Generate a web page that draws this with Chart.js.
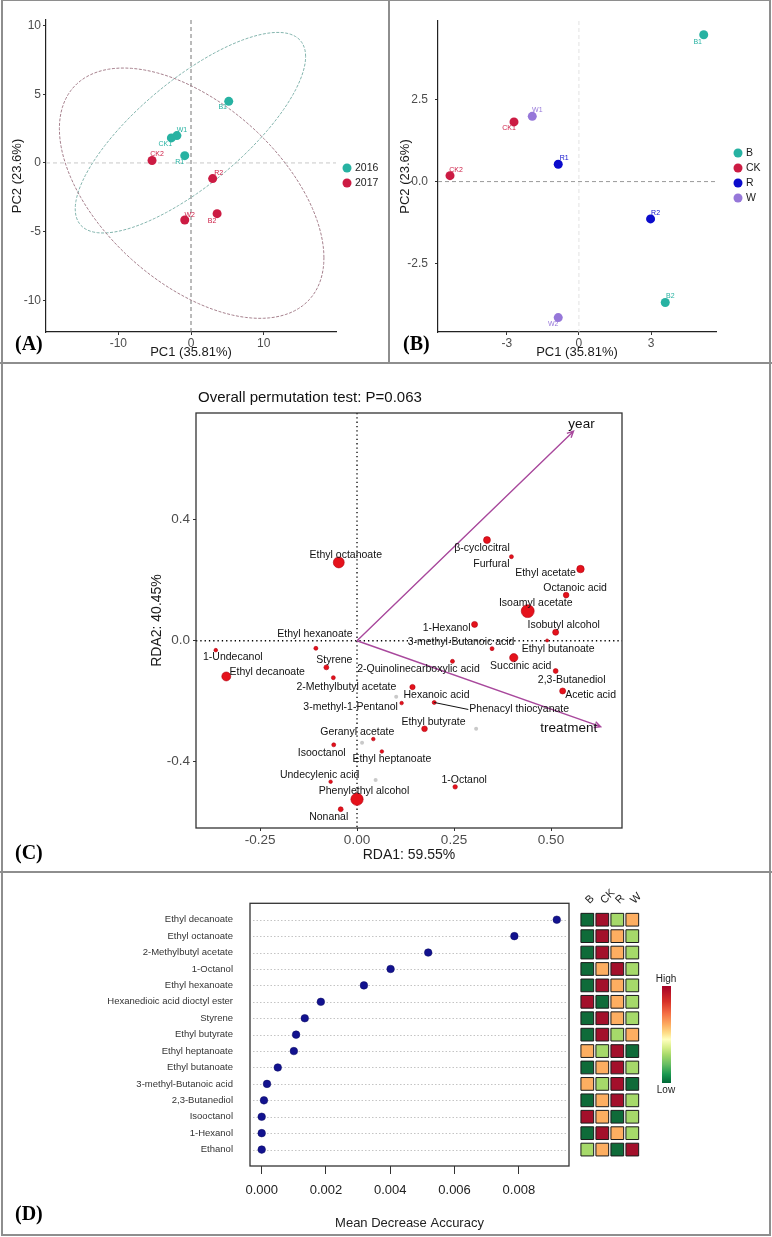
<!DOCTYPE html>
<html>
<head>
<meta charset="utf-8">
<title>PCA, RDA and random forest of volatile compounds</title>
<script src="https://cdn.jsdelivr.net/npm/chart.js@4.4.1/dist/chart.umd.min.js"></script>
<style>
  body { margin: 0; background: #fff; }
  #fig { position: relative; width: 772px; height: 1237px; overflow: hidden; font-family: 'Liberation Sans', Arial, sans-serif; }
  #fig canvas { position: absolute; }
  .frame { position: absolute; left: 1px; top: 0; width: 770px; height: 1236px; box-sizing: border-box; border: 2px solid #8e8e8e; border-top-width: 1px; }
  .rule { position: absolute; background: #8e8e8e; }
  .tag { position: absolute; font-family: 'Liberation Serif', 'Times New Roman', serif; font-weight: bold; font-size: 20px; line-height: 20px; color: #000; }
  .key { position: absolute; width: 40px; text-align: center; font-size: 10px; line-height: 12px; color: #222; }
  #ramp { position: absolute; left: 662px; top: 986px; width: 9px; height: 97px;
    background: linear-gradient(to bottom, #a50026 0%, #d73027 16%, #f46d43 28%, #fdae61 40%, #fee08b 49%, #ffffbf 55%, #d9ef8b 63%, #a6d96a 71%, #66bd63 81%, #1a9850 91%, #006837 100%); }
</style>
</head>
<body>
<div id="fig">
  <div class="frame"></div>
  <div class="rule" style="left:388px;top:0;width:2px;height:363px"></div>
  <div class="rule" style="left:0;top:362px;width:772px;height:2px"></div>
  <div class="rule" style="left:0;top:871px;width:772px;height:2px"></div>

  <canvas id="pcaYear" width="388" height="362" style="left:0;top:0"></canvas>
  <canvas id="pcaGroup" width="384" height="362" style="left:388px;top:0"></canvas>
  <canvas id="rda" width="772" height="509" style="left:0;top:363px"></canvas>
  <canvas id="mda" width="575" height="364" style="left:0;top:873px"></canvas>
  <canvas id="heat" width="100" height="364" style="left:560px;top:873px"></canvas>

  <div id="ramp"></div>
  <div class="key" style="left:646px;top:973px">High</div>
  <div class="key" style="left:646px;top:1084px">Low</div>

  <div class="tag" style="left:15px;top:333px">(A)</div>
  <div class="tag" style="left:403px;top:333px">(B)</div>
  <div class="tag" style="left:15px;top:842px">(C)</div>
  <div class="tag" style="left:15px;top:1203px">(D)</div>
</div>

<script>
// ---- PCA scores (panels A and B) ----
const pcaSamples = ['B1', 'W1', 'CK1', 'R1', 'CK2', 'R2', 'B2', 'W2'];
const pcaYear = ['2016', '2016', '2016', '2016', '2017', '2017', '2017', '2017'];
const pcaGroup = ['B', 'W', 'CK', 'R', 'CK', 'R', 'B', 'W'];
const pc1 = [5.19, -1.94, -2.70, -0.86, -5.36, 2.98, 3.59, -0.86];
const pc2 = [4.48, 1.99, 1.82, 0.53, 0.18, -1.14, -3.69, -4.15];
const years = ['2016', '2017'];
const groups = ['B', 'CK', 'R', 'W'];
// year ellipses: centre, PC1 half-width, and the PC2 parts of the two conjugate semi-axes
const ellCentre1 = [-0.08, 0.09];
const ellCentre2 = [2.20, -2.20];
const ellHalf1 = [15.85, 18.2];
const ellTilt2 = [5.54, -4.7];
const ellSpread2 = [4.75, 7.8];

// ---- RDA (panel C) ----
const rdaNames = ['Ethyl octanoate', '\u03B2-cyclocitral', 'Furfural', 'Ethyl acetate', 'Octanoic acid',
  'Isoamyl acetate', '1-Hexanol', 'Isobutyl alcohol', '3-methyl-Butanoic acid', 'Ethyl butanoate',
  'Ethyl hexanoate', '1-Undecanol', 'Styrene', 'Ethyl decanoate', '2-Methylbutyl acetate',
  '3-methyl-1-Pentanol', 'Hexanoic acid', '2-Quinolinecarboxylic acid', 'Phenacyl thiocyanate', 'Succinic acid',
  '2,3-Butanediol', 'Acetic acid', 'Ethyl butyrate', 'Geranyl acetate', 'Isooctanol',
  'Ethyl heptanoate', 'Undecylenic acid', '1-Octanol', 'Phenylethyl alcohol', 'Nonanal'];
const rda1 = [-0.047, 0.335, 0.398, 0.576, 0.539, 0.440, 0.303, 0.512, 0.348, 0.490,
  -0.106, -0.364, -0.079, -0.337, -0.061, 0.115, 0.143, 0.246, 0.199, 0.404,
  0.512, 0.530, 0.174, 0.042, -0.060, 0.064, -0.068, 0.253, 0.000, -0.042];
const rda2 = [0.259, 0.333, 0.278, 0.237, 0.151, 0.098, 0.054, 0.028, -0.026, 0.001,
  -0.025, -0.031, -0.088, -0.118, -0.122, -0.206, -0.153, -0.068, -0.204, -0.056,
  -0.100, -0.166, -0.291, -0.325, -0.344, -0.366, -0.466, -0.483, -0.524, -0.557];
const rdaAbundance = [30, 12, 4, 14, 8, 42, 9, 9, 4, 2.3,
  4, 3.2, 6, 20, 4, 3.2, 7, 4, 4, 17,
  6, 9, 8, 3.2, 4, 3.2, 3.2, 5, 38, 6];
const rdaOther1 = [0.101, 0.307, 0.013, 0.048];
const rdaOther2 = [-0.185, -0.291, -0.337, -0.460];
const envNames = ['year', 'treatment'];
const envRda1 = [0.558, 0.628];
const envRda2 = [0.693, -0.284];

// ---- random forest (panel D) ----
const mdaNames = ['Ethyl decanoate', 'Ethyl octanoate', '2-Methylbutyl acetate', '1-Octanol', 'Ethyl hexanoate',
  'Hexanedioic acid dioctyl ester', 'Styrene', 'Ethyl butyrate', 'Ethyl heptanoate', 'Ethyl butanoate',
  '3-methyl-Butanoic acid', '2,3-Butanediol', 'Isooctanol', '1-Hexanol', 'Ethanol'];
const mdaValues = [0.00918, 0.00786, 0.00518, 0.00401, 0.00318, 0.00184, 0.00134, 0.00107, 0.00100, 0.00050,
  0.000165, 0.00007, 0.0, 0.0, 0.0];
const heatGroups = ['B', 'CK', 'R', 'W'];
// 1 = lowest ... 4 = highest, columns B CK R W
const heatRank = [[1, 4, 2, 3], [1, 4, 3, 2], [1, 4, 3, 2], [1, 3, 4, 2], [1, 4, 3, 2],
  [4, 1, 3, 2], [1, 4, 3, 2], [1, 4, 2, 3], [3, 2, 4, 1], [1, 3, 4, 2],
  [3, 2, 4, 1], [1, 3, 4, 2], [4, 3, 1, 2], [1, 4, 3, 2], [2, 3, 1, 4]];

// ---- styles ----
const yearColors = { '2016': '#27b2a2', '2017': '#cc1b43' };
const ellipseColors = { '2016': '#84b5ae', '2017': '#a6808d' };
const groupColors = { B: '#27b2a2', CK: '#cc1b43', R: '#0b0bcc', W: '#9677d9' };
const rankColors = ['#0f6b39', '#a6d96a', '#fdae61', '#a3102b'];
const nudgeA = [[-6, 6], [5, -6], [-6, 6], [-5, 6], [5, -6], [6, -6], [-5, 7], [5, -5]];
const nudgeB = [[-6, 7], [5, -6], [-5, 6], [6, -6], [6, -6], [5, -6], [5, -6], [-5, 6]];
const nudgeC = [[7, -7], [-5, 8], [-20, 7], [-35, 4], [9, -7], [8, -8], [-28, 4], [8, -7], [-31, -7], [11, 9],
  [-1, -14], [17, 7], [8, -7], [41, -4], [13, 9], [-51, 4], [24, 8], [-34, 8], [85, 7], [7, 8],
  [16, 9], [28, 4], [9, -7], [-16, -7], [-12, 8], [10, 8], [-11, -7], [9, -7], [7, -8], [-12, 8]];
const leaderC = rdaNames.map(n => n === 'Phenacyl thiocyanate');

Chart.defaults.font.family = "'Liberation Sans', Arial, sans-serif";
Chart.defaults.animation = false;
Chart.defaults.events = [];
Chart.defaults.plugins.legend.display = false;
Chart.defaults.plugins.tooltip.enabled = false;

// text next to each point, shifted by a pixel nudge
const pointText = {
  id: 'pointText',
  afterDatasetsDraw(chart) {
    const ctx = chart.ctx;
    chart.data.datasets.forEach((ds, di) => {
      if (!ds.tags) return;
      const meta = chart.getDatasetMeta(di);
      ctx.save();
      ctx.font = ds.tagFont;
      ctx.textAlign = 'center';
      ctx.textBaseline = 'middle';
      meta.data.forEach((pt, i) => {
        const [dx, dy] = ds.tagNudge[i];
        ctx.fillStyle = ds.tagColor;
        ctx.fillText(ds.tags[i], pt.x + dx, pt.y + dy);
        if (ds.tagLeader && ds.tagLeader[i]) {
          const w = ctx.measureText(ds.tags[i]).width;
          ctx.strokeStyle = '#111';
          ctx.lineWidth = 1;
          ctx.beginPath();
          ctx.moveTo(pt.x, pt.y);
          ctx.lineTo(pt.x + dx - w / 2 - 1, pt.y + dy);
          ctx.stroke();
        }
      });
      ctx.restore();
    });
  }
};

function idx(arr, val) { return arr.map((v, i) => v === val ? i : -1).filter(i => i >= 0); }

function pcaScales(xr, yr, xStep, yStep, yDigits, yPad, yWidth) {
  return {
    x: {
      type: 'linear', min: xr[0], max: xr[1],
      afterFit: s => { s.height = 30; },
      border: { color: '#222', width: 1.2 },
      grid: { drawOnChartArea: false, tickLength: 3, color: '#333' },
      ticks: { stepSize: xStep, includeBounds: false, padding: 1, color: '#4d4d4d', font: { size: 12 },
        callback: v => String(Math.round(v)) },
      title: { display: true, text: 'PC1 (35.81%)', color: '#1a1a1a', font: { size: 13 }, padding: { top: 0, bottom: 2 } }
    },
    y: {
      type: 'linear', min: yr[0], max: yr[1],
      afterFit: s => { s.width = yWidth; },
      border: { color: '#222', width: 1.2 },
      grid: { drawOnChartArea: false, tickLength: 3, color: '#333' },
      ticks: { stepSize: yStep, includeBounds: false, padding: yPad, color: '#4d4d4d', font: { size: 12 },
        callback: v => v.toFixed(yDigits) },
      title: { display: true, text: 'PC2 (23.6%)', color: '#1a1a1a', font: { size: 13 }, padding: { top: 10, bottom: 0 } }
    }
  };
}

function zeroLines(vColor, hColor) {
  return {
    id: 'zeroLines',
    beforeDatasetsDraw(chart) {
      const { ctx, chartArea: a, scales: { x, y } } = chart;
      const px = x.getPixelForValue(0), py = y.getPixelForValue(0);
      ctx.save();
      ctx.lineWidth = 1;
      ctx.setLineDash([4, 3]);
      ctx.strokeStyle = hColor;
      ctx.beginPath(); ctx.moveTo(a.left, py); ctx.lineTo(a.right, py); ctx.stroke();
      ctx.strokeStyle = vColor;
      ctx.beginPath(); ctx.moveTo(px, a.top); ctx.lineTo(px, a.bottom); ctx.stroke();
      ctx.restore();
    }
  };
}

function keyPlugin(labels, colors, x, y0, dy) {
  return {
    id: 'key',
    afterDraw(chart) {
      const ctx = chart.ctx;
      ctx.save();
      ctx.font = "10.5px 'Liberation Sans', Arial, sans-serif";
      ctx.textBaseline = 'middle';
      labels.forEach((lab, i) => {
        const y = y0 + i * dy;
        ctx.fillStyle = colors[lab];
        ctx.beginPath(); ctx.arc(x, y, 4.5, 0, Math.PI * 2); ctx.fill();
        ctx.fillStyle = '#1a1a1a';
        ctx.fillText(lab, x + 8, y);
      });
      ctx.restore();
    }
  };
}

// ---------- (A) PCA coloured by year ----------
const ellipses = {
  id: 'ellipses',
  beforeDatasetsDraw(chart) {
    const { ctx, scales: { x, y } } = chart;
    ctx.save();
    ctx.lineWidth = 1;
    ctx.setLineDash([3, 1.5]);
    years.forEach((yr, e) => {
      ctx.strokeStyle = ellipseColors[yr];
      ctx.beginPath();
      for (let k = 0; k <= 120; k++) {
        const t = k / 120 * Math.PI * 2;
        const px = x.getPixelForValue(ellCentre1[e] + ellHalf1[e] * Math.cos(t));
        const py = y.getPixelForValue(ellCentre2[e] + ellTilt2[e] * Math.cos(t) + ellSpread2[e] * Math.sin(t));
        if (k === 0) ctx.moveTo(px, py); else ctx.lineTo(px, py);
      }
      ctx.stroke();
    });
    ctx.restore();
  }
};

new Chart(document.getElementById('pcaYear'), {
  type: 'scatter',
  data: {
    datasets: years.map(yr => {
      const ii = idx(pcaYear, yr);
      return {
        data: ii.map(i => ({ x: pc1[i], y: pc2[i] })),
        backgroundColor: yearColors[yr], borderWidth: 0, pointRadius: 4.5,
        tags: ii.map(i => pcaSamples[i]), tagNudge: ii.map(i => nudgeA[i]),
        tagColor: yearColors[yr], tagFont: "7px 'Liberation Sans', Arial, sans-serif"
      };
    })
  },
  options: {
    responsive: false,
    layout: { padding: { left: 0, top: 20, right: 52, bottom: 0 } },
    scales: pcaScales([-19.95, 19.95], [-12.3, 10.4], 10, 5, 0, 2, 46)
  },
  plugins: [zeroLines('#777', '#c8c8c8'), ellipses, pointText, keyPlugin(years, yearColors, 347, 168, 15)]
});

// ---------- (B) PCA coloured by treatment ----------
new Chart(document.getElementById('pcaGroup'), {
  type: 'scatter',
  data: {
    datasets: groups.map(g => {
      const ii = idx(pcaGroup, g);
      return {
        data: ii.map(i => ({ x: pc1[i], y: pc2[i] })),
        backgroundColor: groupColors[g], borderWidth: 0, pointRadius: 4.5,
        tags: ii.map(i => pcaSamples[i]), tagNudge: ii.map(i => nudgeB[i]),
        tagColor: groupColors[g], tagFont: "7px 'Liberation Sans', Arial, sans-serif"
      };
    })
  },
  options: {
    responsive: false,
    layout: { padding: { left: 0, top: 21, right: 56, bottom: 0 } },
    scales: pcaScales([-5.86, 5.7], [-4.59, 4.9], 3, 2.5, 1, 7, 50)
  },
  plugins: [zeroLines('#e2e2e2', '#9a9a9a'), pointText, keyPlugin(groups, groupColors, 350, 153, 15)]
});

// ---------- (C) RDA biplot ----------
const rdaDecor = {
  id: 'rdaDecor',
  beforeDatasetsDraw(chart) {
    const { ctx, chartArea: a, scales: { x, y } } = chart;
    const x0 = x.getPixelForValue(0), y0 = y.getPixelForValue(0);
    ctx.save();
    ctx.strokeStyle = '#000';
    ctx.lineWidth = 1.3;
    ctx.setLineDash([1.3, 3]);
    ctx.beginPath();
    ctx.moveTo(x0, a.top); ctx.lineTo(x0, a.bottom);
    ctx.moveTo(a.left, y0); ctx.lineTo(a.right, y0);
    ctx.stroke();
    ctx.setLineDash([]);
    ctx.strokeStyle = '#a8489c';
    ctx.lineWidth = 1.4;
    envNames.forEach((n, i) => {
      const tx = x.getPixelForValue(envRda1[i]), ty = y.getPixelForValue(envRda2[i]);
      const ang = Math.atan2(ty - y0, tx - x0);
      ctx.beginPath();
      ctx.moveTo(x0, y0); ctx.lineTo(tx, ty);
      ctx.moveTo(tx - 7 * Math.cos(ang - 0.45), ty - 7 * Math.sin(ang - 0.45));
      ctx.lineTo(tx, ty);
      ctx.lineTo(tx - 7 * Math.cos(ang + 0.45), ty - 7 * Math.sin(ang + 0.45));
      ctx.stroke();
    });
    ctx.restore();
  },
  afterDraw(chart) {
    const { ctx, chartArea: a, scales: { x, y } } = chart;
    ctx.save();
    ctx.strokeStyle = '#333';
    ctx.lineWidth = 1.3;
    ctx.strokeRect(a.left, a.top, a.width, a.height);
    ctx.fillStyle = '#111';
    ctx.font = "13.5px 'Liberation Sans', Arial, sans-serif";
    ctx.textAlign = 'center';
    ctx.textBaseline = 'middle';
    const envNudge = [[8, -7], [-32, 2]];
    envNames.forEach((n, i) => {
      ctx.fillText(n, x.getPixelForValue(envRda1[i]) + envNudge[i][0], y.getPixelForValue(envRda2[i]) + envNudge[i][1]);
    });
    ctx.font = "15px 'Liberation Sans', Arial, sans-serif";
    ctx.textAlign = 'left';
    ctx.fillText('Overall permutation test: P=0.063', a.left + 2, 35);
    ctx.restore();
  }
};

new Chart(document.getElementById('rda'), {
  type: 'scatter',
  data: {
    datasets: [
      {
        data: rdaOther1.map((v, i) => ({ x: v, y: rdaOther2[i] })),
        backgroundColor: '#c9c9c9', borderWidth: 0, pointRadius: 2
      },
      {
        data: rda1.map((v, i) => ({ x: v, y: rda2[i] })),
        backgroundColor: '#e5121b', borderColor: '#b00010', borderWidth: 0.6,
        pointRadius: rdaAbundance.map(a => Math.sqrt(a)),
        tags: rdaNames, tagNudge: nudgeC, tagLeader: leaderC,
        tagColor: '#111', tagFont: "10.5px 'Liberation Sans', Arial, sans-serif"
      }
    ]
  },
  options: {
    responsive: false,
    layout: { padding: { left: 140, top: 50, right: 150, bottom: 0 } },
    scales: {
      x: {
        type: 'linear', min: -0.415, max: 0.683,
        afterFit: s => { s.height = 44; },
        border: { display: false },
        grid: { drawOnChartArea: false, tickLength: 3, color: '#333' },
        ticks: { stepSize: 0.25, includeBounds: false, padding: 1, color: '#4d4d4d', font: { size: 13.5 },
          callback: v => v.toFixed(2) },
        title: { display: true, text: 'RDA1: 59.55%', color: '#1a1a1a', font: { size: 14 }, padding: { top: 0, bottom: 8.6 } }
      },
      y: {
        type: 'linear', min: -0.619, max: 0.753,
        afterFit: s => { s.width = 56; },
        border: { display: false },
        grid: { drawOnChartArea: false, tickLength: 3, color: '#333' },
        ticks: { stepSize: 0.4, includeBounds: false, padding: 3, color: '#4d4d4d', font: { size: 13.5 },
          callback: v => v.toFixed(1) },
        title: { display: true, text: 'RDA2: 40.45%', color: '#1a1a1a', font: { size: 14 }, padding: { top: 8.6, bottom: 0 } }
      }
    }
  },
  plugins: [rdaDecor, pointText]
});

// ---------- (D) mean decrease accuracy dot chart ----------
const nRows = mdaNames.length;
const dotFrame = {
  id: 'dotFrame',
  beforeDatasetsDraw(chart) {
    const { ctx, chartArea: a, scales: { y } } = chart;
    ctx.save();
    ctx.strokeStyle = '#c4c4c4';
    ctx.lineWidth = 1;
    ctx.setLineDash([1.5, 2]);
    mdaNames.forEach((_, i) => {
      const py = Math.round(y.getPixelForValue(nRows - i)) + 0.5;
      ctx.beginPath(); ctx.moveTo(a.left + 3, py); ctx.lineTo(a.right - 3, py); ctx.stroke();
    });
    ctx.setLineDash([]);
    ctx.strokeStyle = '#333';
    ctx.lineWidth = 1.3;
    ctx.strokeRect(a.left, a.top, a.width, a.height);
    ctx.restore();
  }
};

new Chart(document.getElementById('mda'), {
  type: 'scatter',
  data: {
    datasets: [{
      data: mdaValues.map((v, i) => ({ x: v, y: nRows - i })),
      backgroundColor: '#12128f', borderColor: '#0a0a60', borderWidth: 0.5, pointRadius: 3.8
    }]
  },
  options: {
    responsive: false,
    layout: { padding: { left: 0, top: 30.3, right: 6, bottom: 0 } },
    scales: {
      x: {
        type: 'linear', min: -0.000364, max: 0.00956,
        afterFit: s => { s.height = 71; },
        border: { display: false },
        grid: { drawOnChartArea: false, tickLength: 8, color: '#333' },
        ticks: { stepSize: 0.002, includeBounds: false, padding: 9, color: '#222', font: { size: 13 },
          callback: v => v.toFixed(3) },
        title: { display: true, text: 'Mean Decrease Accuracy', color: '#222', font: { size: 13 }, padding: { top: 0, bottom: 6 } }
      },
      y: {
        type: 'linear', min: 0, max: nRows + 1,
        afterFit: s => { s.width = 250; },
        border: { display: false },
        grid: { display: false, drawTicks: false },
        ticks: { stepSize: 1, autoSkip: false, includeBounds: false, padding: 17, color: '#333', font: { size: 9.5 },
          callback: v => (v >= 1 && v <= nRows) ? mdaNames[nRows - v] : '' }
      }
    }
  },
  plugins: [dotFrame]
});

// ---------- (D) relative level heat map ----------
const heatCells = [], heatFill = [];
heatRank.forEach((row, i) => row.forEach((r, j) => {
  heatCells.push({ x: j + 1, y: nRows - i });
  heatFill.push(rankColors[r - 1]);
}));

// slanted column names over the cells
const heatHeads = {
  id: 'heatHeads',
  afterDraw(chart) {
    const { ctx, chartArea: a, scales: { x } } = chart;
    ctx.save();
    ctx.fillStyle = '#222';
    ctx.font = "11px 'Liberation Sans', Arial, sans-serif";
    ctx.textAlign = 'left';
    ctx.textBaseline = 'middle';
    heatGroups.forEach((g, j) => {
      ctx.save();
      ctx.translate(x.getPixelForValue(j + 1), a.top - 1.3);
      ctx.rotate(-Math.PI / 4);
      ctx.fillText(g, 0, 0);
      ctx.restore();
    });
    ctx.restore();
  }
};

new Chart(document.getElementById('heat'), {
  type: 'scatter',
  data: {
    datasets: [{
      data: heatCells, backgroundColor: heatFill, borderColor: '#1a1a1a', borderWidth: 1,
      pointStyle: 'rect', pointRadius: 9
    }]
  },
  options: {
    responsive: false,
    layout: { padding: { left: 12.3, top: 30.3, right: 12.7, bottom: 71 } },
    scales: {
      x: { type: 'linear', min: 0, max: heatGroups.length + 1, display: false },
      y: { type: 'linear', min: 0, max: nRows + 1, display: false }
    }
  },
  plugins: [heatHeads]
});
</script>
</body>
</html>
